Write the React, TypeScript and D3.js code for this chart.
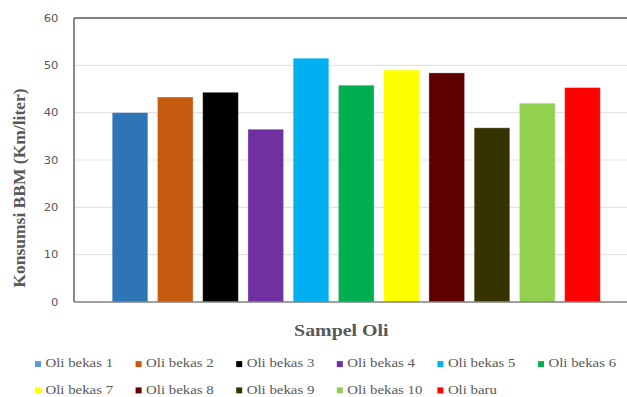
import React from "react";
import * as d3 from "d3";

// Fuel consumption per oil sample
const categories = [
  "Oli bekas 1", "Oli bekas 2", "Oli bekas 3", "Oli bekas 4", "Oli bekas 5", "Oli bekas 6",
  "Oli bekas 7", "Oli bekas 8", "Oli bekas 9", "Oli bekas 10", "Oli baru",
];
const values = [40.0, 43.3, 44.3, 36.5, 51.5, 45.8, 49.0, 48.4, 36.8, 42.0, 45.3];
const barColors = [
  "#2E75B6", "#C55A11", "#000000", "#7030A0", "#00B0F0", "#00B050",
  "#FFFF00", "#600000", "#373300", "#92D050", "#FF0000",
];
const swatchColors = [
  "#5B9BD5", "#C55A11", "#000000", "#7030A0", "#00B0F0", "#00B050",
  "#FFFF00", "#600000", "#373300", "#92D050", "#FF0000",
];
const yTicks = [0, 10, 20, 30, 40, 50, 60];
const yTitle = "Konsumsi BBM (Km/liter)";
const xTitle = "Sampel Oli";

const W = 627;
const H = 397;
const plot = { left: 74, right: 640, top: 18, bottom: 302 };
const textGray = "#595959";
const serif = "'Liberation Serif', 'Times New Roman', 'DejaVu Serif', serif";
const sans = "'DejaVu Sans', Verdana, sans-serif";

export default function App() {
  const y = d3.scaleLinear().domain([0, 60]).range([plot.bottom, plot.top]);
  const x = d3
    .scaleBand<string>()
    .domain(categories)
    .range([107.4, 605.1])
    .paddingInner(0.213)
    .paddingOuter(0.1065);

  const legendX = d3.scaleLinear().domain([0, 5]).range([35, 538]);
  const perRow = 6;

  return (
    <svg
      width={W}
      height={H}
      style={{ position: "absolute", left: 0, top: 0, background: "#fff" }}
    >
      {/* gridlines */}
      {yTicks.slice(1, -1).map((t) => (
        <line
          key={"g" + t}
          x1={plot.left}
          x2={plot.right}
          y1={y(t)}
          y2={y(t)}
          stroke="#E3E3E3"
          strokeWidth={1.2}
        />
      ))}

      {/* bars */}
      {categories.map((c, i) => (
        <rect
          key={c}
          x={x(c)}
          y={y(values[i])}
          width={x.bandwidth()}
          height={y(0) - y(values[i])}
          fill={barColors[i]}
          stroke="#ffffff"
          strokeOpacity={0.35}
          strokeWidth={0.8}
        />
      ))}

      {/* plot frame */}
      <line x1={plot.left} x2={plot.right} y1={plot.top} y2={plot.top} stroke="#595959" strokeWidth={1.4} />
      <line x1={plot.left} x2={plot.left} y1={plot.top} y2={plot.bottom} stroke="#595959" strokeWidth={1.4} />
      <line x1={plot.left} x2={plot.right} y1={plot.bottom} y2={plot.bottom} stroke="#7F7F7F" strokeWidth={1.6} />

      {/* y tick labels */}
      {yTicks.map((t) => (
        <text
          key={"t" + t}
          transform={`translate(58.5,${y(t) + 3.8}) scale(1.16,1)`}
          textAnchor="end"
          style={{ fontFamily: sans, fontSize: "10px" }}
          fill={textGray}
        >
          {t}
        </text>
      ))}

      {/* axis titles */}
      <text
        transform={`translate(25,188) rotate(-90)`}
        textAnchor="middle"
        style={{ fontFamily: serif, fontSize: "17.5px", fontWeight: 700 }}
        fill={textGray}
      >
        {yTitle}
      </text>
      <text
        transform={`translate(341.3,336) scale(1.17,1)`}
        textAnchor="middle"
        style={{ fontFamily: serif, fontSize: "17px", fontWeight: 700 }}
        fill={textGray}
      >
        {xTitle}
      </text>

      {/* legend */}
      {categories.map((c, i) => {
        const col = i % perRow;
        const row = Math.floor(i / perRow);
        const lx = legendX(col);
        const base = 367.3 + row * 26.3;
        return (
          <g key={"l" + c}>
            <rect x={lx} y={base - 6.2} width={6} height={6} fill={swatchColors[i]} />
            <text
              transform={`translate(${lx + 10.5},${base}) scale(1.1,1)`}
              style={{ fontFamily: serif, fontSize: "13.5px" }}
              fill={textGray}
            >
              {c}
            </text>
          </g>
        );
      })}
    </svg>
  );
}
